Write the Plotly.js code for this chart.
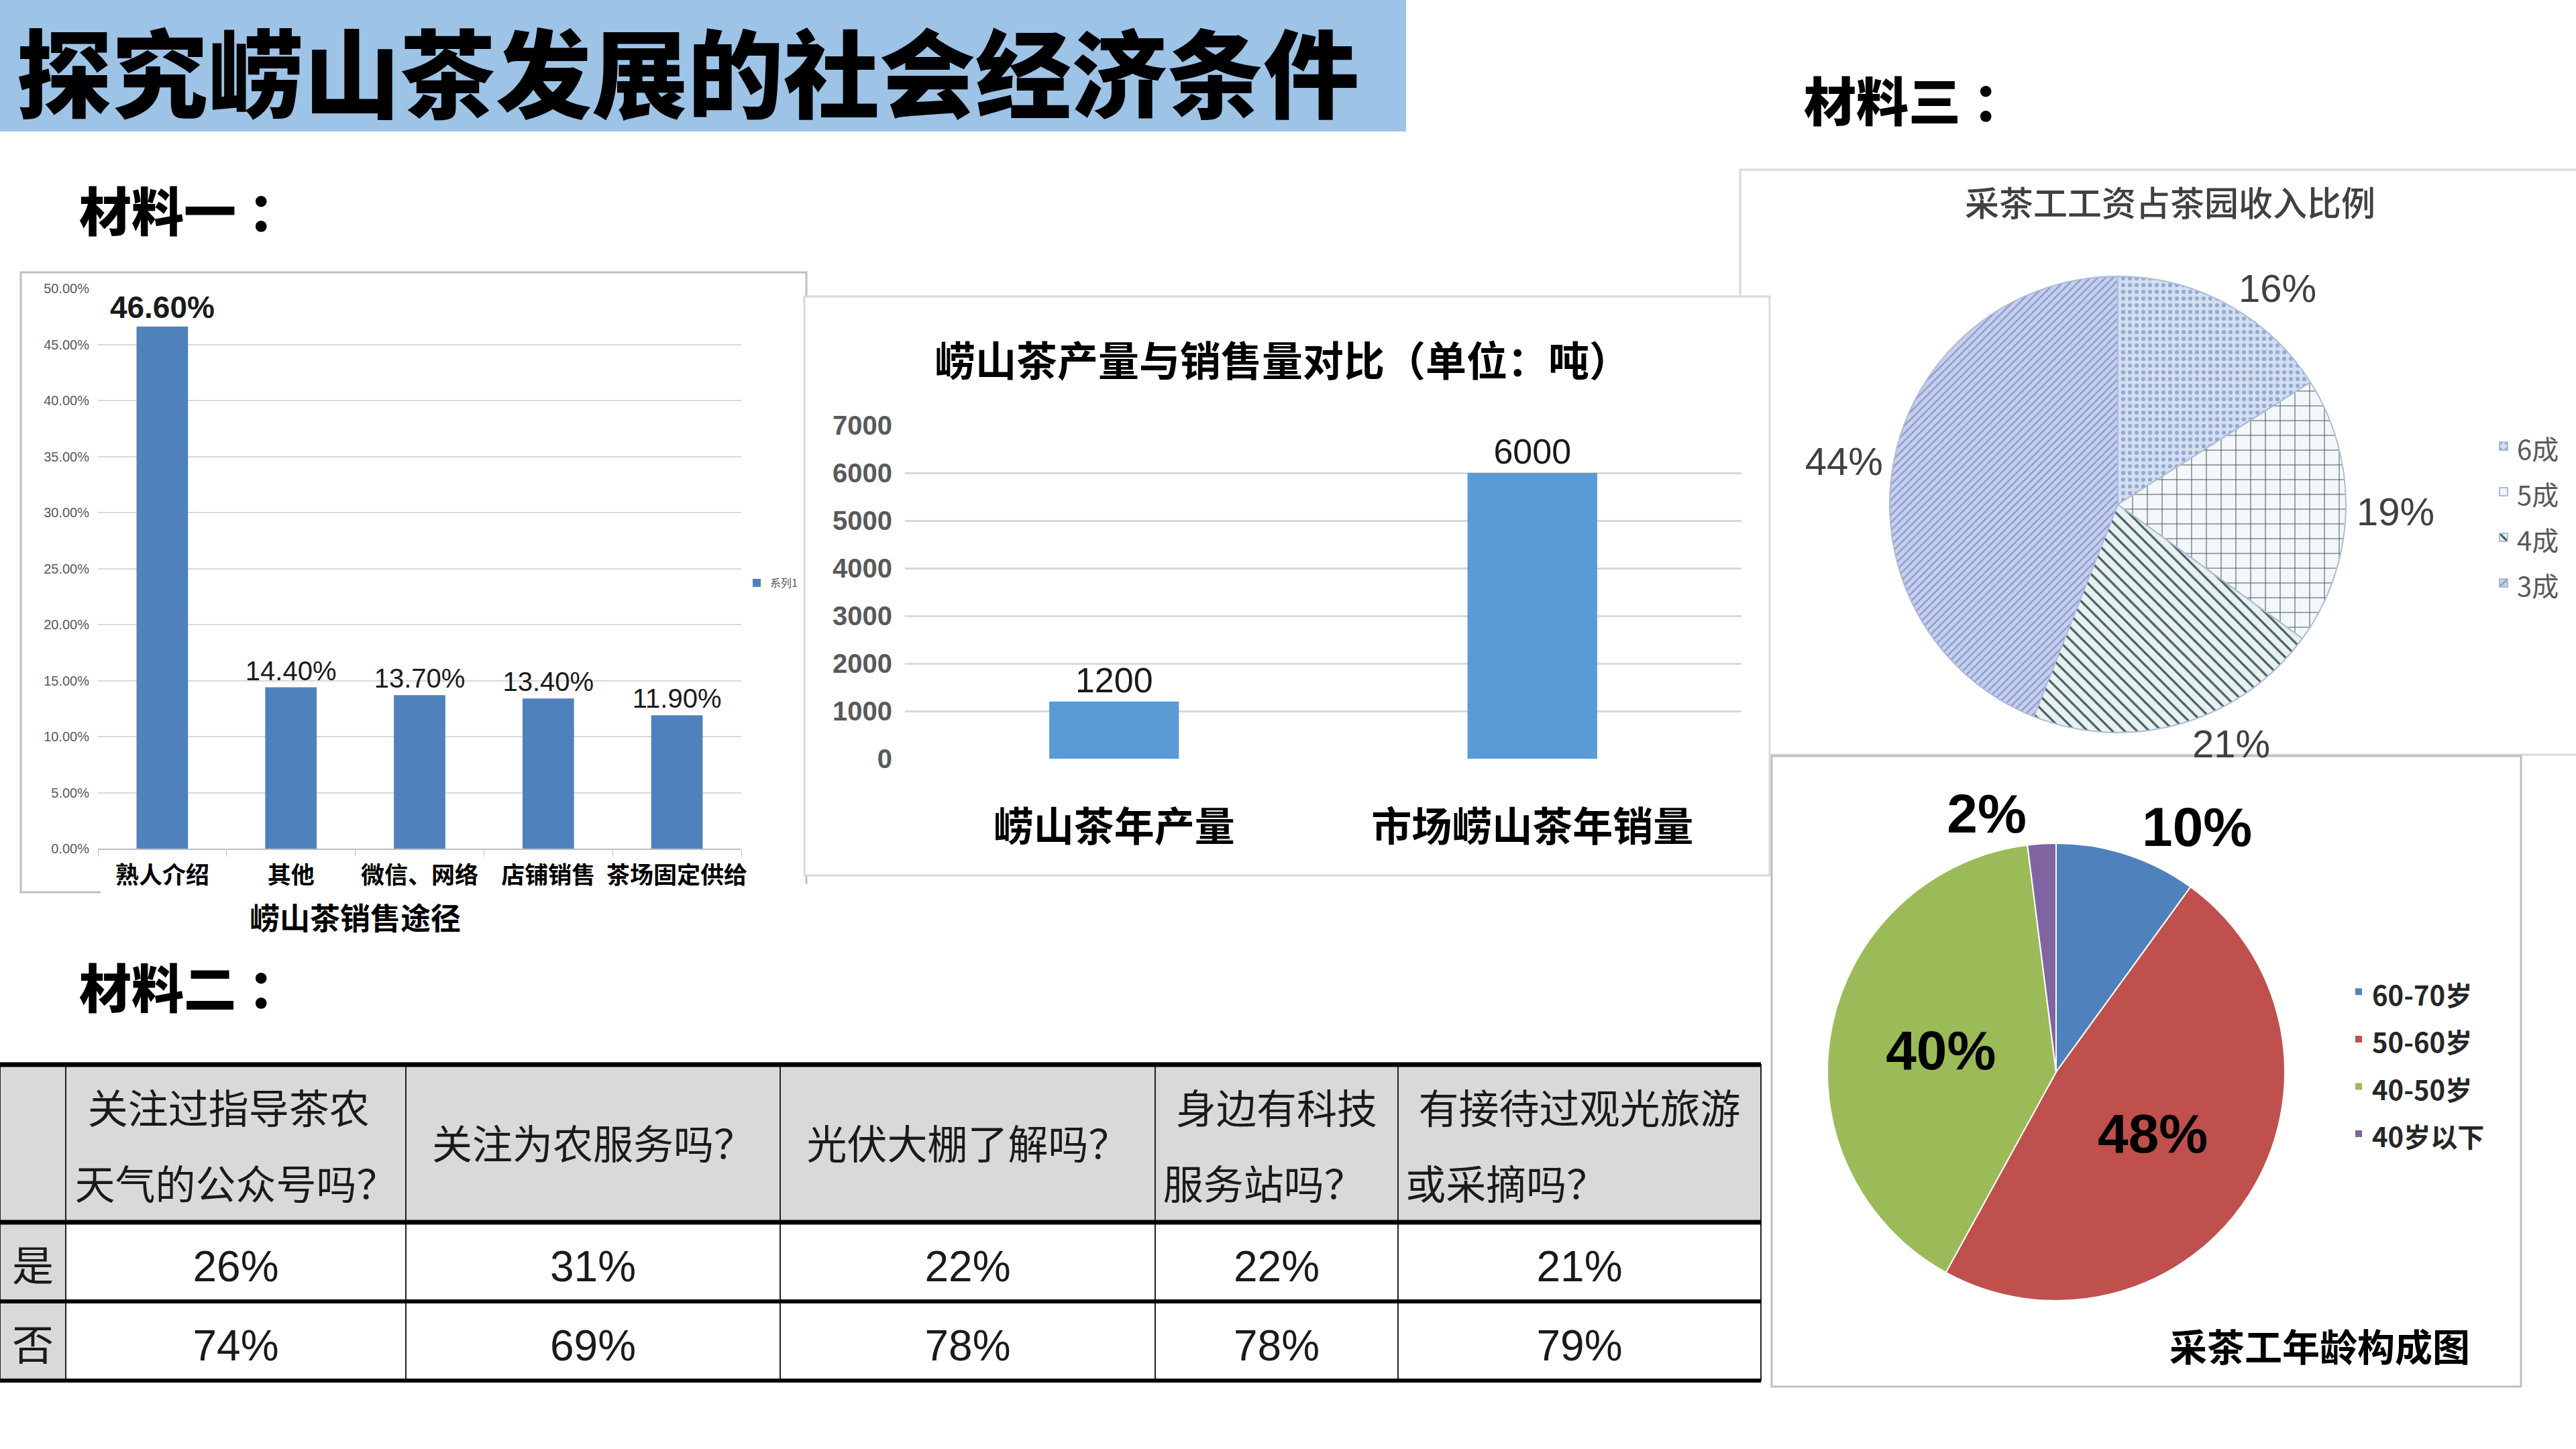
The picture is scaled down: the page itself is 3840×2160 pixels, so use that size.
<!DOCTYPE html>
<html>
<head>
<meta charset="utf-8">
<script src="https://cdn.plot.ly/plotly-3.0.1.min.js"></script>
<style>
  html, body { margin: 0; padding: 0; background: #ffffff; }
  #slide { width: 3840px; height: 2160px; }
</style>
</head>
<body>
<div id="slide"></div>
<script>
// 材料一：崂山茶销售途径（%）
const channelNames = ['熟人介绍', '其他', '微信、网络', '店铺销售', '茶场固定供给'];
const channelShare = [46.6, 14.4, 13.7, 13.4, 11.9];

// 崂山茶产量与销售量对比（吨）
const volumeNames = ['崂山茶年产量', '市场崂山茶年销量'];
const volumeTons = [1200, 6000];

// 采茶工工资占茶园收入比例（%）
const wageLabels = ['6成', '5成', '4成', '3成'];
const wageShare = [16, 19, 21, 44];

// 采茶工年龄构成（%）
const ageLabels = ['60-70岁', '50-60岁', '40-50岁', '40岁以下'];
const ageShare = [10, 48, 40, 2];

// 材料二：问卷调查
const surveyQuestions = [
  ['关注过指导茶农', '天气的公众号吗？'],
  ['关注为农服务吗？'],
  ['光伏大棚了解吗？'],
  ['身边有科技', '服务站吗？'],
  ['有接待过观光旅游', '或采摘吗？']
];
const answerLabels = ['是', '否'];
const yesShare = [26, 31, 22, 22, 21];
const noShare = [74, 69, 78, 78, 79];

// ---- helpers: slide pixel -> paper fraction ----
const W = 3840, H = 2160;
const px = x => x / W;
const py = y => 1 - y / H;
const CJK = "'Noto Sans CJK SC', 'Noto Sans', sans-serif";
const LAT = "'Liberation Sans', Arial, sans-serif";
const NARROW = "'Liberation Sans Narrow', 'Liberation Sans', 'Noto Sans CJK SC', sans-serif";

// sized text run, and an invisible run used only to give a line extra ascent
const span = (t, s) => '<span style="font-size:' + s + 'px">' + t + '</span>';
const ghost = (s, ch) => '<span style="font-size:' + s + 'px;fill:rgba(0,0,0,0)">' + (ch || '.') + '</span>';
const padded = (t, s, ch) => ghost(s, ch) + t + ghost(s, ch);
// a trailing break keeps the table from re-wrapping the markup at spaces
const keep = t => t + '<br>';

function box(x0, y0, x1, y1, line, width, fill, layer) {
  return {
    type: 'rect', xref: 'paper', yref: 'paper', layer: layer || 'below',
    x0: px(x0), x1: px(x1), y0: py(y1), y1: py(y0),
    line: { color: line || 'rgba(0,0,0,0)', width: width || 0 },
    fillcolor: fill || 'rgba(0,0,0,0)'
  };
}
function hline(x0, x1, y, width) {
  return {
    type: 'line', xref: 'paper', yref: 'paper', layer: 'above',
    x0: px(x0), x1: px(x1), y0: py(y), y1: py(y),
    line: { color: '#000000', width: width }
  };
}
function label(text, x, y, size, opts) {
  opts = opts || {};
  return Object.assign({
    text: text, xref: 'paper', yref: 'paper', x: px(x), y: py(y),
    xanchor: 'center', yanchor: 'middle', showarrow: false,
    font: { family: CJK, size: size, color: '#000000', weight: 700 }
  }, opts);
}
const heading = (t, x, y) => label(t, x, y, 78, {
  xanchor: 'left', font: { family: CJK, size: 78, color: '#000', weight: 900 }
});

// ---- traces ----
const channelBar = {
  type: 'bar', x: channelNames, y: channelShare, name: '系列1',
  xaxis: 'x', yaxis: 'y', width: 0.4,
  marker: { color: '#4F81BD' },
  texttemplate: channelShare.map((v, i) => i === 0 ? '<b>%{y:.2f}%</b>' : '%{y:.2f}%'),
  textposition: 'outside', cliponaxis: false, constraintext: 'none',
  textfont: { family: LAT, size: channelShare.map((v, i) => i === 0 ? 46 : 40), color: '#1a1a1a' },
  legend: 'legend3', showlegend: true, hoverinfo: 'skip'
};

const volumeBar = {
  type: 'bar', x: volumeNames, y: volumeTons,
  xaxis: 'x2', yaxis: 'y2', width: 0.31,
  marker: { color: '#5B9BD5' },
  texttemplate: '%{y}', textposition: 'outside', cliponaxis: false, constraintext: 'none',
  textfont: { family: LAT, size: 52, color: '#1a1a1a' },
  showlegend: false, hoverinfo: 'skip'
};

const wagePie = {
  type: 'pie', labels: wageLabels.map(l => span(l, 40)), values: wageShare, sort: false,
  direction: 'clockwise', rotation: 0,
  domain: { x: [px(3157 - 340), px(3157 + 340)], y: [py(752 + 340), py(752 - 340)] },
  marker: {
    colors: ['#D3DEF0', '#F4F7F9', '#EAF0EF', '#C6D0EC'],
    line: { color: '#AEBBD8', width: 2 },
    pattern: {
      shape: ['.', '+', '\\', '/'],
      fgcolor: ['#93AAD3', '#405658', '#3F6264', '#8A9AD0'],
      bgcolor: ['#D3DEF0', '#F4F7F9', '#EAF0EF', '#C6D0EC'],
      size: [10, 22, 13, 8],
      solidity: [0.3, 0.09, 0.25, 0.3]
    }
  },
  texttemplate: '%{value}%', textposition: 'outside',
  outsidetextfont: { family: LAT, size: 58, color: '#404040' },
  automargin: false, legend: 'legend', hoverinfo: 'skip'
};

const agePie = {
  type: 'pie', labels: ageLabels.map(l => span(l, 40)), values: ageShare, sort: false,
  direction: 'clockwise', rotation: 0,
  domain: { x: [px(3065 - 341), px(3065 + 341)], y: [py(1598 + 341), py(1598 - 341)] },
  marker: {
    colors: ['#4F81BD', '#C0504D', '#9BBB59', '#8064A2'],
    line: { color: '#ffffff', width: 2 }
  },
  texttemplate: '%{value}%',
  textposition: ['outside', 'inside', 'inside', 'outside'],
  insidetextorientation: 'horizontal',
  insidetextfont: { family: LAT, size: 82, color: '#000000', weight: 700 },
  outsidetextfont: { family: LAT, size: 82, color: '#000000', weight: 700 },
  automargin: false, legend: 'legend2', hoverinfo: 'skip'
};

// survey table; header line spacing comes from the per-column font size,
// glyphs are drawn at 60px inside spans
const headerValues = [''].concat(surveyQuestions.map(lines =>
  lines.length === 2
    ? padded(span(lines[0], 60), 69) + '<br>' + span(lines[1], 60)
    : keep(padded(span(lines[0], 60), 115))
));
const headerSizes = [60].concat(surveyQuestions.map(lines => lines.length === 2 ? 87 : 60));
const cellValues = [answerLabels.map(a => keep(padded(span(a, 62), 88, "'")))].concat(
  yesShare.map((y, i) => [y, noShare[i]].map(v => keep(padded(v + '%', 88))))
);
const tableTrace = {
  type: 'table',
  domain: { x: [0, px(2625)], y: [py(2075), py(1587)] },
  columnwidth: [98, 507, 558, 559, 362, 541],
  header: {
    values: headerValues, height: 235, align: 'center',
    fill: { color: '#D9D9D9' },
    line: { color: '#222222', width: 2 },
    font: { family: CJK, size: headerSizes, color: '#1a1a1a' }
  },
  cells: {
    values: cellValues, height: 118, align: 'center',
    fill: { color: [['#D9D9D9', '#D9D9D9']].concat(yesShare.map(() => ['#ffffff', '#ffffff'])) },
    line: { color: '#222222', width: 2 },
    font: { family: NARROW, size: 64, color: '#1a1a1a' }
  }
};

// ---- layout ----
const shapes = [
  box(0, 0, 2096, 196, null, 0, '#9DC3E6'),
  box(31, 406, 1202, 1330, '#BFBFBF', 3, '#ffffff'),
  box(150, 1318, 1212, 1400, null, 0, '#ffffff'),
  box(2594, 253, 3860, 1125, '#D9D9D9', 3, '#ffffff'),
  box(1199, 442, 2638, 1305, '#D9D9D9', 3, '#ffffff'),
  box(2641, 1127, 3758, 2067, '#BFBFBF', 3, '#ffffff'),
  hline(0, 2625, 1587, 7),
  hline(0, 2625, 1822, 7),
  hline(0, 2625, 1940, 6),
  hline(0, 2625, 2058, 6)
];

const annotations = [
  label('探究崂山茶发展的社会经济条件', 22, 102, 143, { xanchor: 'left', font: { family: CJK, size: 143, color: '#000', weight: 900 } }),
  heading('材料一 ：', 116, 311),
  heading('材料二 ：', 116, 1469),
  heading('材料三 ：', 2687, 147),
  label('崂山茶销售途径', 529, 1366, 45),
  label('崂山茶产量与销售量对比（单位：吨）', 1911, 535, 61),
  label('采茶工工资占茶园收入比例', 3235, 300, 51, { font: { family: CJK, size: 51, color: '#404040', weight: 500 } }),
  label('采茶工年龄构成图', 3458, 2004, 56)
];

const layout = {
  width: W, height: H,
  margin: { l: 0, r: 0, t: 0, b: 0, autoexpand: false },
  paper_bgcolor: '#ffffff', plot_bgcolor: 'rgba(0,0,0,0)',
  showlegend: true,
  xaxis: {
    domain: [px(146), px(1105)], anchor: 'y', type: 'category',
    showline: true, linecolor: '#BFBFBF', linewidth: 2,
    ticks: 'outside', tickson: 'boundaries', ticklen: 10, tickcolor: '#BFBFBF',
    tickangle: 0,
    tickfont: { family: CJK, size: 35, color: '#000', weight: 700 },
    ticklabelstandoff: 8, fixedrange: true
  },
  yaxis: {
    domain: [py(1265), py(430)], anchor: 'x', range: [0, 50], dtick: 5,
    tickformat: '.2f', ticksuffix: '%',
    showgrid: true, gridcolor: '#D9D9D9', gridwidth: 2, zeroline: false,
    tickfont: { family: LAT, size: 20, color: '#595959' },
    ticklabelstandoff: 12, fixedrange: true
  },
  xaxis2: {
    domain: [px(1349), px(2596)], anchor: 'y2', type: 'category',
    showline: false, ticks: '', tickangle: 0,
    tickfont: { family: CJK, size: 60, color: '#000', weight: 700 },
    ticklabelstandoff: 62, fixedrange: true
  },
  yaxis2: {
    domain: [py(1131), py(634)], anchor: 'x2', range: [0, 7000], dtick: 1000,
    showgrid: true, gridcolor: '#D9D9D9', gridwidth: 3, zeroline: false,
    tickfont: { family: NARROW, size: 40, color: '#595959', weight: 700 },
    ticklabelstandoff: 18, fixedrange: true
  },
  legend: {
    x: px(3712), y: py(626), xanchor: 'left', yanchor: 'top',
    bgcolor: 'rgba(0,0,0,0)', font: { family: CJK, size: 50, color: '#595959' },
    traceorder: 'normal'
  },
  legend2: {
    x: px(3496), y: py(1438), xanchor: 'left', yanchor: 'top',
    bgcolor: 'rgba(0,0,0,0)', font: { family: CJK, size: 52, color: '#262626', weight: 700 },
    traceorder: 'normal'
  },
  legend3: {
    x: px(1108), y: py(869), xanchor: 'left', yanchor: 'middle',
    bgcolor: 'rgba(0,0,0,0)', font: { family: CJK, size: 16, color: '#595959' }
  },
  shapes: shapes,
  annotations: annotations
};

Plotly.newPlot('slide', [channelBar, volumeBar, wagePie, agePie, tableTrace], layout,
  { displayModeBar: false, staticPlot: true });
</script>
</body>
</html>
